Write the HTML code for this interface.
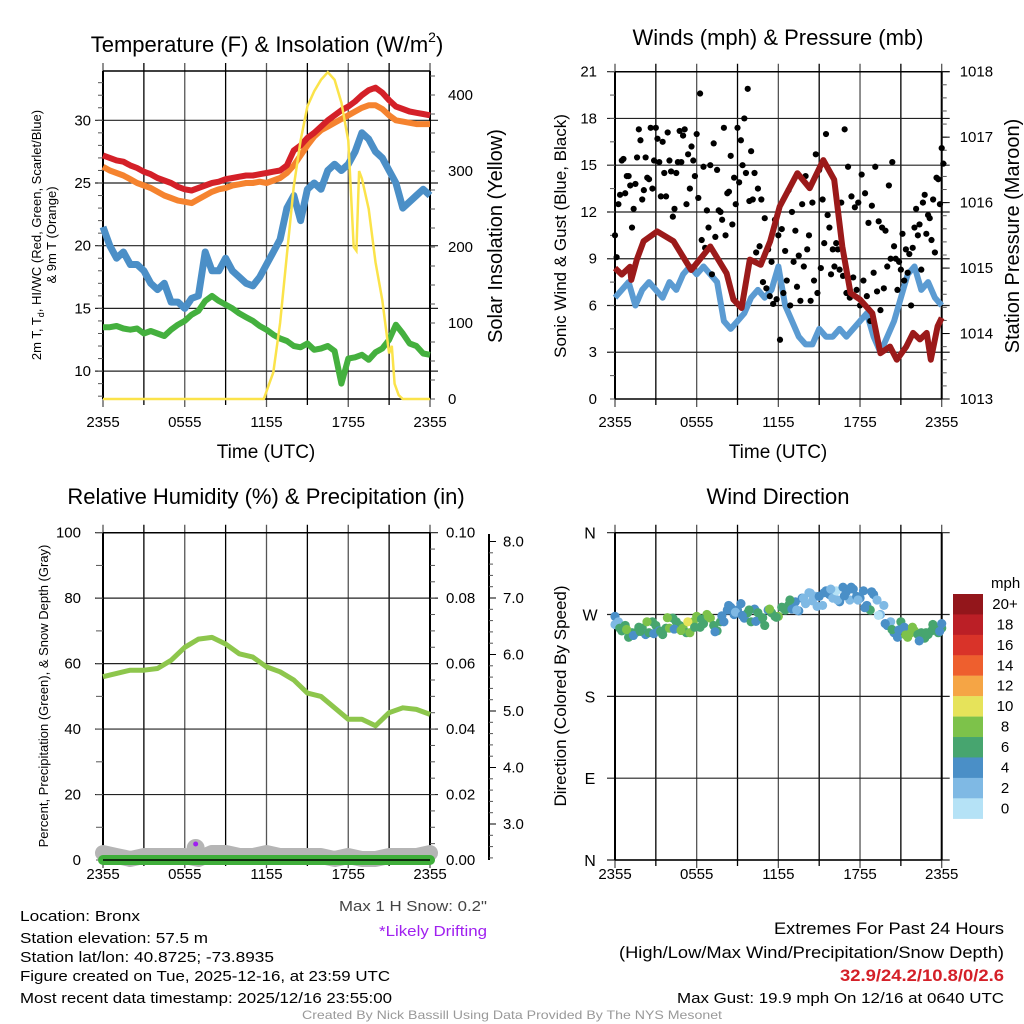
<!DOCTYPE html>
<html><head><meta charset="utf-8"><style>
html,body{margin:0;padding:0;background:#fff;}
svg{display:block;font-family:"Liberation Sans",Arial,sans-serif;}
</style></head><body>
<svg id="fig" width="1024" height="1024" viewBox="0 0 1024 1024"></svg>
<script>
// ---------- DATA ----------
const xTickLabels = ["2355","0555","1155","1755","2355"];
const tempT = [27.2,27.0,26.8,26.7,26.4,26.2,25.9,25.7,25.4,25.2,25.0,24.7,24.5,24.4,24.6,24.8,25.0,25.1,25.3,25.4,25.5,25.6,25.6,25.7,25.8,25.9,26.0,26.4,27.6,28.0,28.6,29.0,29.5,30.0,30.4,30.8,31.1,31.5,32.0,32.4,32.6,32.2,31.6,31.1,30.9,30.7,30.6,30.5,30.4];
const temp9m = [26.3,26.0,25.8,25.6,25.3,25.0,24.8,24.6,24.3,24.0,23.8,23.6,23.5,23.4,23.7,24.0,24.3,24.5,24.6,24.8,24.9,25.0,25.0,25.1,25.0,25.2,25.4,25.8,26.4,27.2,28.0,28.7,29.2,29.5,29.8,30.1,30.4,30.7,31.0,31.2,31.2,30.9,30.4,30.0,29.9,29.8,29.7,29.7,29.7];
const dewpt = [13.5,13.5,13.6,13.4,13.3,13.4,13.0,13.2,13.0,12.8,13.3,13.7,14.0,14.5,14.8,15.6,16.0,15.6,15.3,15.0,14.6,14.3,14.0,13.6,13.3,12.9,12.6,12.4,12.0,11.9,12.2,11.7,11.8,12.0,11.6,9.0,11.0,11.1,11.3,10.9,11.5,11.8,12.5,13.7,13.0,12.2,12.0,11.4,11.3];
const hiwc = [21.5,20.0,19.0,19.5,18.5,18.5,18.0,17.0,16.5,17.0,15.5,15.5,15.0,15.8,16.0,19.5,18.0,18.0,19.0,18.0,17.5,17.0,16.8,17.5,18.5,19.5,20.5,23.0,24.0,22.0,24.5,25.0,24.5,26.0,26.5,26.0,26.5,27.5,29.0,28.5,27.5,27.0,26.0,25.0,23.0,23.5,24.0,24.5,24.0];
const solarHours = [0,11.8,12.2,12.5,13.0,13.5,14.0,14.5,15.0,15.5,16.0,16.5,17.0,17.5,18.0,18.2,18.4,18.6,18.8,19.0,19.5,20.0,20.5,21.0,21.2,21.4,21.7,22.0,24];
const solarVals = [0,0,20,35,100,190,280,340,385,405,420,430,420,390,340,270,200,195,300,290,250,180,130,60,70,20,5,0,0];
const windSpd = [6.5,7.0,7.5,6.0,7.0,7.5,7.0,6.5,7.5,7.0,8.0,8.5,8.0,8.5,8.0,7.5,5.0,4.5,5.0,5.5,6.5,7.0,6.5,7.0,8.5,6.0,5.0,4.0,3.5,3.5,4.5,4.0,4.0,4.5,4.0,4.5,5.0,5.5,4.0,3.0,4.0,5.0,6.5,8.0,8.5,7.0,7.5,6.5,6.0];
const gusts = [10.5,12.5,15.3,13.2,14.3,11.0,13.8,17.3,12.8,15.5,14.1,13.5,17.4,15.2,16.5,13.0,15.3,11.7,14.5,17.2,16.9,12.5,13.5,15.3,17.0,19.6,14.9,12.1,15.0,16.4,14.7,12.0,17.4,13.2,15.6,14.2,17.4,16.6,18.0,19.9,15.9,14.5,13.5,12.8,11.6,9.6,8.8,11.5,10.5,10.9,9.5,13.4,12.0,10.8,9.2,12.5,14.3,10.5,12.6,15.7,14.7,12.8,17.0,11.0,9.6,10.0,8.3,7.9,6.8,6.5,7.8,7.0,6.0,7.6,6.6,5.0,8.1,6.9,5.7,7.1,8.5,9.0,9.8,7.0,8.3,7.6,8.1,6.0,11.0,10.5,8.3,13.1,11.8,10.2,9.4,14.1,16.1];
const gusts2 = [9.1,13.1,15.4,14.3,13.7,12.2,15.5,16.6,13.4,14.2,17.4,15.3,16.7,13.0,14.5,17.1,14.6,12.2,15.2,15.2,17.3,15.7,16.2,14.3,12.9,10.2,9.7,11.0,8.0,10.4,12.1,11.5,10.5,13.3,11.2,12.5,13.9,15.0,14.5,12.7,12.8,9.4,9.8,7.5,7.1,6.6,6.1,6.4,3.8,6.8,7.6,6.0,8.8,7.2,6.3,8.5,9.6,6.3,7.6,6.8,8.4,10.0,11.8,8.0,8.5,9.6,12.6,17.3,14.9,13.0,12.3,12.6,14.4,13.2,11.3,12.4,14.9,11.4,11.0,10.8,13.7,15.2,9.0,8.8,10.6,9.6,9.3,9.7,12.2,11.2,12.6,10.6,11.6,12.8,14.2,12.5,15.1];
const pressHours = [0,0.5,1.1,1.2,1.6,2.1,3.1,4.3,5.6,7.0,8.2,8.7,9.3,9.9,10.7,11.4,12.1,13.4,14.3,15.3,16.1,16.7,17.3,18.0,18.9,19.5,20.2,20.7,21.4,21.9,22.4,22.9,23.2,23.7,24.0];
const pressVals = [1015.00,1014.90,1015.02,1014.82,1015.13,1015.41,1015.56,1015.41,1014.97,1015.33,1014.92,1014.52,1014.39,1015.13,1015.05,1015.41,1015.94,1016.45,1016.22,1016.65,1016.35,1015.33,1014.62,1014.52,1014.31,1013.70,1013.80,1013.60,1013.80,1014.01,1013.91,1014.01,1013.60,1014.11,1014.24];
const rh = [56,57,58,58,58.5,61,65,67.5,68,66,63,62,59,57.5,55,51,50,46.5,43,43,41,45,46.5,46,44.5];
const snowDepth = [2.7,2.6,2.5,2.6,2.6,2.6,2.6,2.5,2.7,2.7,2.6,2.6,2.7,2.6,2.6,2.6,2.6,2.5,2.6,2.5,2.5,2.6,2.6,2.6,2.7];
const precip = [0,0,0,0,0,0,0,0,0,0,0,0,0,0,0,0,0,0,0,0,0,0,0,0,0];
const windDir = [268,252,245,250,255,250,258,248,255,262,255,250,268,260,266,252,262,278,275,266,262,272,258,272,268,275,276,274,282,285,290,296,288,284,295,298,288,280,292,270,258,250,262,245,252,250,248,256,255];
const windDir2 = [262,258,250,256,248,262,252,255,266,258,250,262,256,270,258,262,275,270,282,272,276,265,275,268,278,280,284,288,294,290,280,292,296,300,286,290,296,275,286,280,262,245,256,250,248,244,252,250,260];
const dirSpd = [4.5,6.5,7,6,6.5,7,6.5,6,8,6,8,9,8,7.5,8,7,5,4.5,5,5.5,6.5,7,6.5,7,8.5,6,5,4,3.5,2,4.5,4,2.5,4.5,4,4.5,5,5.5,4,3,4,5,6.5,8,8.5,7,7.5,6.5,6];
const cbLabels = ["20+","18","16","14","12","10","8","6","4","2","0"];
const cbColors = ["#93161b","#bb1f26","#d93329","#ee5f2e","#f5a545","#e6e35a","#7dc24a","#47a56f","#4a8fc7","#7fb9e4","#b5e2f6"];

// ---------- HELPERS ----------
const NS="http://www.w3.org/2000/svg";
const svg=document.getElementById('fig');
function mk(tag,attrs,parent){const e=document.createElementNS(NS,tag);for(const k in attrs)e.setAttribute(k,attrs[k]);(parent||svg).appendChild(e);return e;}
function txt(s,x,y,size,anchor,extra,parent){const e=mk('text',Object.assign({x:x,y:y,'font-size':size,'text-anchor':anchor||'start',fill:'#000'},extra||{}),parent);e.textContent=s;return e;}
function tsp(s,attrs,parent){const e=mk('tspan',attrs,parent);e.textContent=s;return e;}
function pathD(xs,ys){let d='';for(let i=0;i<xs.length;i++)d+=(i?'L':'M')+xs[i].toFixed(1)+' '+ys[i].toFixed(1);return d;}
function hrs(n,step){const a=[];for(let i=0;i<n;i++)a.push(i*step);return a;}

const L={x0:103,x1:430}, R={x0:615,x1:941.7};
function xs(P){return h=>P.x0+h/24*(P.x1-P.x0);}

function grid(P,y0,y1,hy,g){
  const X=xs(P);
  for(let i=0;i<=8;i++){const x=X(i*3);mk('line',{x1:x,y1:y0-8,x2:x,y2:y1+(i%2==0?8:6),stroke:i%2?'#000':'#555','stroke-width':1.3},g);}
  hy.forEach(y=>mk('line',{x1:P.x0-8,y1:y,x2:P.x1+8,y2:y,stroke:'#222','stroke-width':1.2},g));
  mk('line',{x1:P.x0,y1:y0,x2:P.x0,y2:y1,stroke:'#000','stroke-width':2},g);
  mk('line',{x1:P.x1,y1:y0,x2:P.x1,y2:y1,stroke:'#000','stroke-width':2},g);
  mk('line',{x1:P.x0,y1:y0,x2:P.x1,y2:y0,stroke:'#000','stroke-width':1.5},g);
  mk('line',{x1:P.x0,y1:y1,x2:P.x1,y2:y1,stroke:'#000','stroke-width':1.5},g);
}
function xlabels(P,y,g){const X=xs(P);xTickLabels.forEach((s,i)=>{const t=txt(s,X(i*6),y,15,'middle',{},g);});}

// ---------- PANEL 1 ----------
(function(){
  const g=mk('g',{});
  
  
  const X=xs(L);
  const Yt=v=>120.3-(v-30)*12.54;
  const Ys=v=>399-v*0.76;
  grid(L,71,399,[30,25,20,15,10].map(Yt),g);
  for(let v=8;v<=33;v++) mk('line',{x1:L.x0-5,y1:Yt(v),x2:L.x0,y2:Yt(v),stroke:'#555'},g);
  for(let v=0;v<=425;v+=25) mk('line',{x1:L.x1,y1:Ys(v),x2:L.x1+5,y2:Ys(v),stroke:'#555'},g);
  [10,15,20,25,30].forEach(v=>txt(String(v),L.x0-12,Yt(v)+5,15,'end',{},g));
  [0,100,200,300,400].forEach(v=>txt(String(v),L.x1+18,Ys(v)+5,15,'start',{},g));
  const h=hrs(49,0.5);
  const s1=mk('path',{d:pathD(h.map(X),hiwc.map(Yt)),fill:'none',stroke:'#4b8fc7','stroke-width':7,'stroke-linejoin':'round'},g);
  
  const s2=mk('path',{d:pathD(h.map(X),dewpt.map(Yt)),fill:'none',stroke:'#44b03e','stroke-width':6,'stroke-linejoin':'round'},g);
  
  const s3=mk('path',{d:pathD(h.map(X),temp9m.map(Yt)),fill:'none',stroke:'#f5832f','stroke-width':6,'stroke-linejoin':'round'},g);
  
  const s4=mk('path',{d:pathD(h.map(X),tempT.map(Yt)),fill:'none',stroke:'#d42028','stroke-width':6,'stroke-linejoin':'round'},g);
  
  const s5=mk('path',{d:pathD(solarHours.map(X),solarVals.map(Ys)),fill:'none',stroke:'#fbe34a','stroke-width':2.5},g);
  
  xlabels(L,427,g);
  const xt=txt('Time (UTC)',266,458,19,'middle',{},g);
  const tt=mk('text',{x:267,y:52,'font-size':22,'text-anchor':'middle',fill:'#000'},g);
  
  tsp('Temperature (F) & Insolation (W/m',{},tt);
  tsp('2',{dy:-10,'font-size':14},tt);
  tsp(')',{dy:10},tt);
  const yl=mk('text',{x:0,y:0,'font-size':13,'text-anchor':'middle',fill:'#000',transform:'translate(41,235) rotate(-90)'},g);
  
  tsp('2m T, T',{},yl);
  tsp('d',{dy:3,'font-size':9},yl);
  tsp(', HI/WC (Red, Green, Scarlet/Blue)',{dy:-3},yl);
  txt('& 9m T (Orange)',0,0,13,'middle',{transform:'translate(56,235) rotate(-90)'},g);
  const yr=txt('Solar Insolation (Yellow)',0,0,20,'middle',{transform:'translate(502,236) rotate(-90)'},g);
  
})();

// ---------- PANEL 2 ----------
(function(){
  const g=mk('g',{});
  
  
  const X=xs(R);
  const Yw=v=>399-v*15.586;
  const Yp=v=>399-(v-1013)*65.46;
  grid(R,71.7,399,[21,18,15,12,9,6,3].map(Yw),g);
  for(let v=0;v<=21;v+=1.5) mk('line',{x1:R.x0-5,y1:Yw(v),x2:R.x0,y2:Yw(v),stroke:'#555'},g);
  for(let v=1013;v<=1018;v+=0.2) mk('line',{x1:R.x1,y1:Yp(v),x2:R.x1+5,y2:Yp(v),stroke:'#555'},g);
  [1013,1014,1015,1016,1017,1018].forEach(v=>mk('line',{x1:R.x1,y1:Yp(v),x2:R.x1+8,y2:Yp(v),stroke:'#000'},g));
  [0,3,6,9,12,15,18,21].forEach(v=>txt(String(v),R.x0-18,Yw(v)+5,15,'end',{},g));
  [1013,1014,1015,1016,1017,1018].forEach(v=>txt(String(v),R.x1+18,Yp(v)+5,15,'start',{},g));
  const h=hrs(49,0.5);
  const w=mk('path',{d:pathD(h.map(X),windSpd.map(Yw)),fill:'none',stroke:'#5b9bd2','stroke-width':6,'stroke-linejoin':'round'},g);
  
  const gh=hrs(97,0.25);
  [gusts,gusts2].forEach((arr,k)=>arr.forEach((v,i)=>{
    const c=mk('circle',{cx:X(gh[i]+k*0.12),cy:Yw(v),r:3.1,fill:'#000'},g);
    
    
  }));
  const p=mk('path',{d:pathD(pressHours.map(X),pressVals.map(Yp)),fill:'none',stroke:'#9b1a1a','stroke-width':6,'stroke-linejoin':'round'},g);
  
  xlabels(R,427,g);
  const xt=txt('Time (UTC)',778,458,19,'middle',{},g);
  const tt=txt('Winds (mph) & Pressure (mb)',778,45,22,'middle',{},g);
  const yl=txt('Sonic Wind & Gust (Blue, Black)',0,0,17,'middle',{transform:'translate(566,236) rotate(-90)'},g);
  
  const yr=txt('Station Pressure (Maroon)',0,0,20,'middle',{transform:'translate(1019,236) rotate(-90)'},g);
  
})();

// ---------- PANEL 3 ----------
(function(){
  const g=mk('g',{});
  
  
  const X=xs(L);
  const Yr=v=>860-v*3.273;
  const Yq=v=>860-v*3273;
  const Ysn=v=>824-(v-3)*56.5;
  grid(L,532.7,860,[100,80,60,40,20].map(Yr),g);
  for(let v=0;v<=100;v+=10) mk('line',{x1:L.x0-7,y1:Yr(v),x2:L.x0,y2:Yr(v),stroke:'#555'},g);
  for(let v=0;v<=0.1;v+=0.005) mk('line',{x1:L.x1,y1:Yq(v),x2:L.x1+5,y2:Yq(v),stroke:'#555'},g);
  [0,20,40,60,80,100].forEach(v=>txt(String(v),L.x0-22,Yr(v)+5,15,'end',{},g));
  ["0.00","0.02","0.04","0.06","0.08","0.10"].forEach((s,i)=>txt(s,L.x1+16,Yq(i*0.02)+5,15,'start',{},g));
  mk('line',{x1:489,y1:534,x2:489,y2:860,stroke:'#000','stroke-width':2},g);
  for(let v=2.4;v<=8.2;v+=0.2) mk('line',{x1:489,y1:Ysn(v),x2:493,y2:Ysn(v),stroke:'#555'},g);
  [3,4,5,6,7,8].forEach(v=>{mk('line',{x1:489,y1:Ysn(v),x2:496,y2:Ysn(v),stroke:'#000'},g);txt(v.toFixed(1),503,Ysn(v)+5,15,'start',{},g);});
  const h=hrs(25,1);
  const sn=mk('path',{d:pathD(h.map(X),snowDepth.map(v=>862-(v-2.4)*30)),fill:'none',stroke:'#b5b5b5','stroke-width':16,'stroke-linecap':'round','stroke-linejoin':'round'},g);
  
  const bump=mk('circle',{cx:X(6.8),cy:848,r:9,fill:'#b5b5b5'},g);
  
  const pr=mk('path',{d:pathD(h.map(X),precip.map(Yq)),fill:'none',stroke:'#3fae3a','stroke-width':10,'stroke-linecap':'round'},g);
  
  mk('line',{x1:L.x0,y1:860,x2:L.x1,y2:860,stroke:'#000','stroke-width':1.5},g);
  const dr=mk('circle',{cx:X(6.8),cy:844,r:2.5,fill:'#a020f0'},g);
  
  const r=mk('path',{d:pathD(h.map(X),rh.map(Yr)),fill:'none',stroke:'#8dc64c','stroke-width':5,'stroke-linejoin':'round'},g);
  
  xlabels(L,879,g);
  const tt=txt('Relative Humidity (%) & Precipitation (in)',266,504,22,'middle',{},g);
  const yl=txt('Percent, Precipitation (Green), & Snow Depth (Gray)',0,0,13,'middle',{transform:'translate(48,696) rotate(-90)'},g);
  
})();

// ---------- PANEL 4 ----------
(function(){
  const g=mk('g',{});
  
  
  const X=xs(R);
  const Yd=v=>860-v/360*327.3;
  grid(R,532.7,860,[360,270,180,90,0].map(Yd),g);
  ["N","W","S","E","N"].forEach((s,i)=>txt(s,R.x0-25,Yd(360-i*90)+6,16,'middle',{},g));
  const h=hrs(49,0.5);
  const ci=v=>{let k=10-Math.floor(v/2);if(k<0)k=0;if(k>10)k=10;return cbColors[k];};
  windDir.forEach((d,i)=>{
    const a=mk('circle',{cx:X(h[i]),cy:Yd(d),r:4.6,fill:ci(dirSpd[i])},g);
    
    
    const b=mk('circle',{cx:X(Math.min(24,h[i]+0.25)),cy:Yd(windDir2[i]),r:4.6,fill:ci(dirSpd[i]+(i%2?0.8:-0.8))},g);
    
    
    const c=mk('circle',{cx:X(Math.max(0,h[i]-0.15)),cy:Yd((d+windDir2[i])/2+(i%3-1)*6),r:4.6,fill:ci(dirSpd[i]+(i%3-1)*1.2)},g);
    
    
  });
  xlabels(R,879,g);
  const tt=txt('Wind Direction',778,504,22,'middle',{},g);
  const yl=txt('Direction (Colored By Speed)',0,0,17,'middle',{transform:'translate(566,696) rotate(-90)'},g);
  
  const cb=mk('g',{},g);
  
  
  txt('mph',991,588,15,'start',{},cb);
  cbColors.forEach((c,i)=>{
    mk('rect',{x:953,y:594+i*20.43,width:30,height:20.6,fill:c},cb);
    txt(cbLabels[i],1005,609+i*20.43,15,'middle',{},cb);
  });
})();

// ---------- FOOTER ----------
(function(){
  const g=mk('g',{});
  
  
  const lines=[["Location: Bronx",921,120],["Station elevation: 57.5 m",943,188],["Station lat/lon: 40.8725; -73.8935",962,254],["Figure created on Tue, 2025-12-16, at 23:59 UTC",981,370],["Most recent data timestamp: 2025/12/16 23:55:00",1003,372]];
  lines.forEach(l=>txt(l[0],20,l[1],15,'start',{textLength:l[2],lengthAdjust:'spacingAndGlyphs'},g));
  const s=txt('Max 1 H Snow: 0.2"',487,911,15,'end',{fill:'#444',textLength:148,lengthAdjust:'spacingAndGlyphs'});
  
  const d=txt('*Likely Drifting',487,936,15,'end',{fill:'#a020f0',textLength:108,lengthAdjust:'spacingAndGlyphs'});
  
  const e=mk('g',{});
  
  
  txt('Extremes For Past 24 Hours',1004,934,17,'end',{textLength:230,lengthAdjust:'spacingAndGlyphs'},e);
  txt('(High/Low/Max Wind/Precipitation/Snow Depth)',1004,958,17,'end',{textLength:385,lengthAdjust:'spacingAndGlyphs'},e);
  txt('32.9/24.2/10.8/0/2.6',1004,981,17,'end',{fill:'#d42028','font-weight':'bold',textLength:164,lengthAdjust:'spacingAndGlyphs'},e);
  txt('Max Gust: 19.9 mph On 12/16 at 0640 UTC',1004,1003,15,'end',{textLength:327,lengthAdjust:'spacingAndGlyphs'},e);
  const c=txt('Created By Nick Bassill Using Data Provided By The NYS Mesonet',512,1019,12,'middle',{fill:'#999',textLength:420,lengthAdjust:'spacingAndGlyphs'});
  
})();
</script>
</body></html>
